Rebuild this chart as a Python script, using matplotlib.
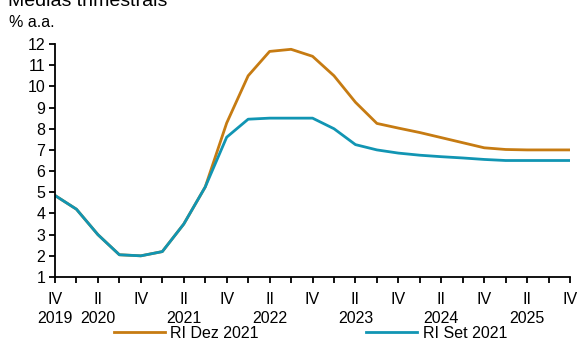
import matplotlib.pyplot as plt

plt.rcParams['font.family'] = ['Liberation Sans', 'DejaVu Sans']

# quarterly labels, IV 2019 .. IV 2025
quarters = ['IV', 'I', 'II', 'III'] * 6 + ['IV']
years = {0: '2019', 2: '2020', 6: '2021', 10: '2022', 14: '2023', 18: '2024', 22: '2025'}

ri_set_2021 = [4.85, 4.2, 3.0, 2.05, 2.0, 2.2, 3.5, 5.25, 7.6, 8.45, 8.5, 8.5, 8.5,
               8.0, 7.25, 7.0, 6.85, 6.75, 6.68, 6.62, 6.55, 6.5, 6.5, 6.5, 6.5]
ri_dez_2021 = [4.85, 4.2, 3.0, 2.05, 2.0, 2.2, 3.5, 5.25, 8.27, 10.5, 11.65, 11.75, 11.42,
               10.5, 9.25, 8.25, 8.03, 7.82, 7.58, 7.34, 7.1, 7.02, 7.0, 7.0, 7.0]

orange = '#C67B12'
blue = '#1195B3'
fs = 11.5

fig = plt.figure(figsize=(5.77, 3.43), dpi=100)
ax = fig.add_axes([0.0953, 0.1924, 0.8927, 0.6793])

x = list(range(len(quarters)))
ax.plot(x, ri_dez_2021, color=orange, lw=2.0, label='RI Dez 2021')
ax.plot(x, ri_set_2021, color=blue, lw=2.0, label='RI Set 2021')

ax.set_xlim(0, len(quarters) - 1)
ax.set_ylim(1, 12)
ax.set_yticks(range(1, 13))

labels = []
for i, q in enumerate(quarters):
    if q in ('II', 'IV'):
        labels.append(q + ('\n' + years[i] if i in years else '\n '))
    else:
        labels.append('')
ax.set_xticks(x)
ax.set_xticklabels(labels, linespacing=1.35)

ax.spines['top'].set_visible(False)
ax.spines['right'].set_visible(False)
for s in ('left', 'bottom'):
    ax.spines[s].set_linewidth(1.3)
ax.tick_params(axis='both', direction='out', length=4, width=1.3, labelsize=fs, colors='black')
ax.tick_params(axis='y', pad=3)
ax.tick_params(axis='x', pad=7)

fig.text(0.014, 0.995, 'Médias trimestrais', fontsize=14, va='center', ha='left')
fig.text(0.015, 0.933, '% a.a.', fontsize=fs, va='center', ha='left')

fig.legend(loc='center', bbox_to_anchor=(0.538, 0.029), ncol=2, frameon=False,
           fontsize=fs, handlelength=3.2, columnspacing=6.7, handletextpad=0.35,
           borderpad=0.1)

fig.savefig('out.png', dpi=100)
